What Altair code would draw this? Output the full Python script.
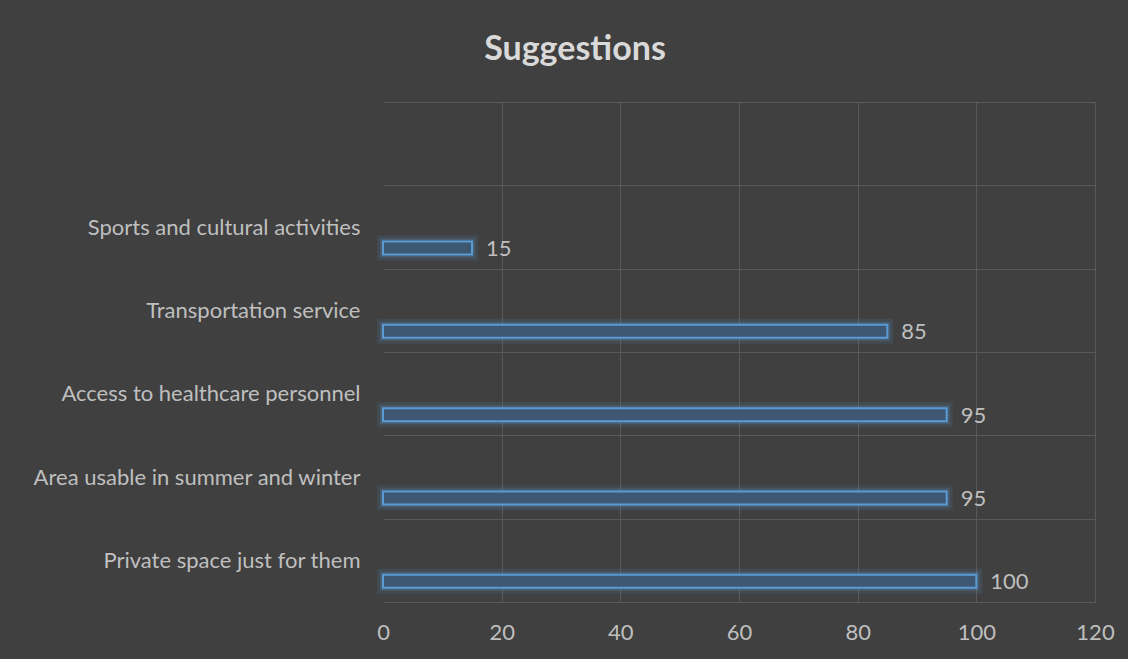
import altair as alt
import pandas as pd

categories = [
    "Sports and cultural activities",
    "Transportation service",
    "Access to healthcare personnel",
    "Area usable in summer and winter",
    "Private space just for them",
]
values = [15, 85, 95, 95, 100]
# top band is empty in the reference
y_domain = [" "] + categories
x_ticks = [0, 20, 40, 60, 80, 100, 120]

df = pd.DataFrame({"cat": categories, "val": values})

FONT = "Lato"
TXT = "#bfbfbf"
GRID = "#595959"
BG = "#404040"
BLUE = "#5b9bd5"
FS = 22

y_enc = alt.Y(
    "cat:N",
    scale=alt.Scale(domain=y_domain, paddingInner=0, paddingOuter=0),
    axis=alt.Axis(
        title=None,
        domain=False,
        ticks=False,
        tickBand="extent",
        grid=True,
        gridColor=GRID,
        gridWidth=1,
        labelPadding=23,
        labelFont=FONT,
        labelFontSize=FS,
        labelColor=TXT,
        labelLimit=400,
    ),
)
x_enc = alt.X(
    "val:Q",
    scale=alt.Scale(domain=[0, 120], nice=False),
    axis=alt.Axis(
        title=None,
        values=x_ticks,
        domain=False,
        ticks=False,
        grid=True,
        gridColor={"condition": {"test": "datum.value === 0", "value": BG}, "value": GRID},
        gridWidth=1,
        labelPadding=20,
        labelFlush=False,
        labelOverlap=False,
        labelFont=FONT,
        labelFontSize=FS,
        labelColor=TXT,
    ),
)

base = alt.Chart(df).encode(y=y_enc, x=x_enc)

glow1 = base.mark_bar(height=13, yOffset=21, fill=None, stroke=BLUE,
                      strokeWidth=12, strokeOpacity=0.12)
glow2 = base.mark_bar(height=13, yOffset=21, fill=None, stroke=BLUE,
                      strokeWidth=6, strokeOpacity=0.22)
bars = base.mark_bar(height=13, yOffset=21, fill="#3e5874", stroke=BLUE,
                     strokeWidth=2)
labels = base.mark_text(align="left", baseline="middle", dx=14, dy=22,
                        font=FONT, fontSize=FS, color=TXT).encode(text="val:Q")

chart = (
    alt.layer(glow1, glow2, bars, labels)
    .properties(
        width=712,
        height=500,
        title=alt.TitleParams(
            "Suggestions",
            font=FONT,
            fontSize=34,
            fontWeight="bold",
            color="#d9d9d9",
            anchor="middle",
            dx=-164,
            offset=24,
        ),
        autosize=alt.AutoSizeParams(type="none"),
        padding={"left": 383, "top": 102, "right": 33, "bottom": 57},
        background=BG,
    )
    .configure_view(stroke=None)
)

chart.save("out.html", embed_options={"renderer": "svg", "actions": False})
